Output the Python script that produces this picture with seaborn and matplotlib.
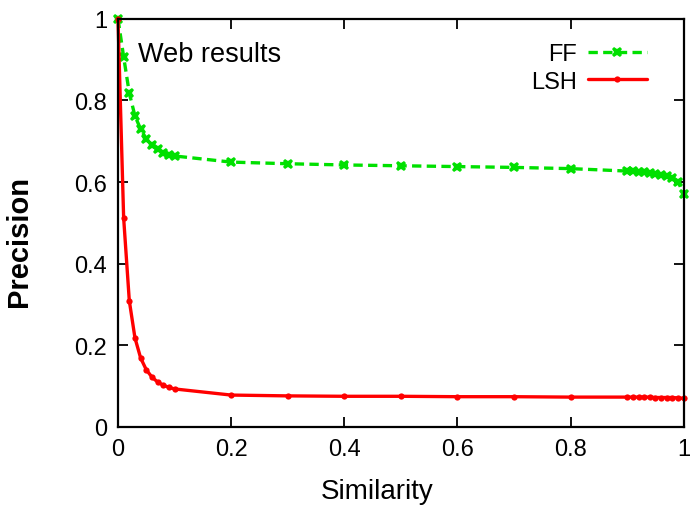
import numpy as np
import pandas as pd
import matplotlib
matplotlib.use("Agg")
import matplotlib.pyplot as plt
import seaborn as sns

# similarity thresholds
similarity = [0.0, 0.01, 0.02, 0.03, 0.04, 0.05, 0.06, 0.07, 0.08, 0.09, 0.1,
              0.2, 0.3, 0.4, 0.5, 0.6, 0.7, 0.8, 0.9,
              0.91, 0.92, 0.93, 0.94, 0.95, 0.96, 0.97, 0.98, 0.99, 1.0]

ff_precision = [1.0, 0.907, 0.818, 0.762, 0.730, 0.706, 0.690, 0.680, 0.672, 0.667, 0.664,
                0.649, 0.645, 0.642, 0.640, 0.638, 0.636, 0.633, 0.627,
                0.626, 0.625, 0.624, 0.623, 0.621, 0.618, 0.615, 0.610, 0.600, 0.571]

lsh_precision = [1.0, 0.512, 0.309, 0.218, 0.169, 0.140, 0.122, 0.110, 0.102, 0.097, 0.093,
                 0.078, 0.076, 0.075, 0.075, 0.074, 0.074, 0.073, 0.073,
                 0.073, 0.073, 0.073, 0.073, 0.072, 0.072, 0.072, 0.072, 0.071, 0.070]

tick_vals = [0, 0.2, 0.4, 0.6, 0.8, 1]
tick_labels = ["0", "0.2", "0.4", "0.6", "0.8", "1"]

sns.set_style("white")
plt.rcParams['font.family'] = ['Liberation Sans', 'DejaVu Sans']
plt.rcParams['text.color'] = 'black'
plt.rcParams['axes.labelcolor'] = 'black'
plt.rcParams['xtick.color'] = 'black'
plt.rcParams['ytick.color'] = 'black'

df = pd.DataFrame({
    "Similarity": similarity * 2,
    "Precision": ff_precision + lsh_precision,
    "Method": ["FF"] * len(similarity) + ["LSH"] * len(similarity),
})

fig = plt.figure(figsize=(6.9, 5.1), dpi=100)
ax = fig.add_axes([0.171, 0.161, 0.820, 0.800])

ff = df[df["Method"] == "FF"]
lsh = df[df["Method"] == "LSH"]
sns.lineplot(data=ff, x="Similarity", y="Precision", ax=ax, color="#00e000",
             linestyle=(0, (2.8, 1.6)), linewidth=2.4, marker="X", markersize=7.5,
             markeredgewidth=0, label="FF", clip_on=False)
sns.lineplot(data=lsh, x="Similarity", y="Precision", ax=ax, color="#ff0000",
             linewidth=2.4, marker="o", markersize=4.5, markeredgewidth=0, label="LSH",
             clip_on=False)

ax.set_xlim(0, 1)
ax.set_ylim(0, 1)
ax.set_xticks(tick_vals)
ax.set_xticklabels(tick_labels)
ax.set_yticks(tick_vals)
ax.set_yticklabels(tick_labels)
ax.tick_params(direction="in", length=7, width=1.3, labelsize=17, top=True, right=True,
               bottom=True, left=True, pad=8)
for sp in ax.spines.values():
    sp.set_color("black")
    sp.set_linewidth(1.6)

ax.set_xlabel("Similarity", fontsize=20)
ax.set_ylabel("Precision", fontsize=21, fontweight="bold")
ax.xaxis.set_label_coords(0.458, -0.125)
ax.yaxis.set_label_coords(-0.150, 0.458)

ax.text(0.035, 0.915, "Web results", transform=ax.transAxes, fontsize=19.5,
        ha="left", va="center")

leg = ax.legend(loc="upper right", frameon=False, fontsize=17, markerfirst=False,
                handlelength=2.5, handletextpad=0.47, labelspacing=0.22,
                borderaxespad=0, borderpad=0, bbox_to_anchor=(0.935, 0.94))

fig.savefig("out.png", dpi=100)
